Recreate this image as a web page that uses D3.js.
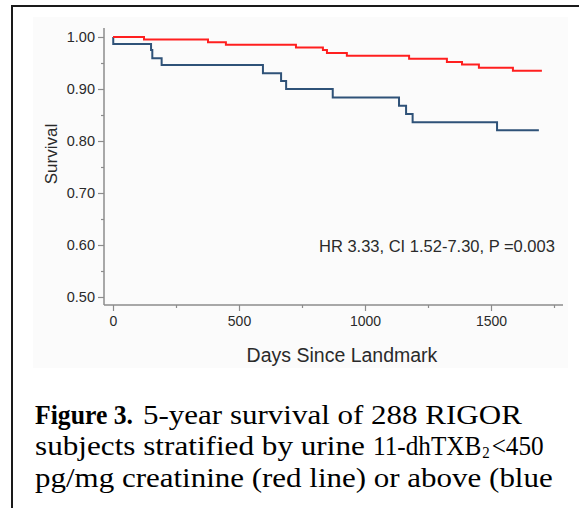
<!DOCTYPE html>
<html>
<head>
<meta charset="utf-8">
<script src="https://cdn.jsdelivr.net/npm/d3@7/dist/d3.min.js"></script>
<style>
  html, body { margin: 0; padding: 0; background: #fff; }
  svg { display: block; }
</style>
</head>
<body>
<svg id="chart" width="579" height="508"></svg>
<script>
// ---- Data ----
const redDays  = [0, 123, 377, 448, 726, 833, 849, 928, 1175, 1325, 1385, 1452, 1587, 1702];
const redSurv  = [1.000, 0.995, 0.990, 0.985, 0.980, 0.975, 0.969, 0.964, 0.958, 0.952, 0.947, 0.941, 0.935, 0.935];
const blueDays = [0, 1, 151, 156, 193, 595, 667, 687, 872, 1135, 1163, 1189, 1524, 1690];
const blueSurv = [1.000, 0.9865, 0.975, 0.959, 0.946, 0.9305, 0.9155, 0.900, 0.8835, 0.868, 0.852, 0.836, 0.8205, 0.8205];
const yMajorTicks = [0.50, 0.60, 0.70, 0.80, 0.90, 1.00];
const yMinorTicks = [0.55, 0.65, 0.75, 0.85, 0.95];
const xMajorTicks = [0, 500, 1000, 1500];
const xMinorTicks = [250, 750, 1250, 1750];
const xLabel = "Days Since Landmark";
const yLabel = "Survival";
const annotation = "HR 3.33, CI 1.52-7.30, P =0.003";

const svg = d3.select("#chart");

// faint figure background and frame
svg.append("rect").attr("x", 33).attr("y", 17).attr("width", 535).attr("height", 351)
  .attr("fill", "#fbfbfb");
svg.append("path").attr("d", "M12,508 L12,6 L579,6")
  .attr("fill", "none").attr("stroke", "#1a1a1a").attr("stroke-width", 2);

const x = d3.scaleLinear().domain([0, 1500]).range([113, 491]);
const y = d3.scaleLinear().domain([0.5, 1.0]).range([297, 37]);

const axisColor = "#8c8c8c";
const textColor = "#2a2a2a";
const axisX = 104, axisY = 305;

// Y axis
const gy = svg.append("g").attr("transform", `translate(${axisX},0)`);
gy.call(d3.axisLeft(y).tickValues(yMajorTicks).tickFormat(d3.format(".2f")).tickSize(6).tickPadding(3));
gy.append("g").call(d3.axisLeft(y).tickValues(yMinorTicks).tickFormat("").tickSize(3))
  .select(".domain").remove();
gy.selectAll(".domain").remove();
gy.append("line").attr("x1", 0).attr("x2", 0).attr("y1", 28).attr("y2", axisY)
  .attr("stroke", axisColor).attr("stroke-width", 1.5);
gy.selectAll(".tick line").attr("stroke", axisColor).attr("stroke-width", 1.2);
gy.selectAll(".tick text").attr("fill", textColor)
  .style("font-family", "Liberation Sans, Arial, sans-serif").style("font-size", "14.5px");

// X axis
const gx = svg.append("g").attr("transform", `translate(0,${axisY})`);
gx.call(d3.axisBottom(x).tickValues(xMajorTicks).tickFormat(d3.format("d")).tickSize(6).tickPadding(5));
gx.append("g").call(d3.axisBottom(x).tickValues(xMinorTicks).tickFormat("").tickSize(3))
  .select(".domain").remove();
gx.selectAll(".domain").remove();
gx.append("line").attr("x1", axisX).attr("x2", 563).attr("y1", 0).attr("y2", 0)
  .attr("stroke", axisColor).attr("stroke-width", 1.5);
gx.selectAll(".tick line").attr("stroke", axisColor).attr("stroke-width", 1.2);
gx.selectAll(".tick text").attr("fill", textColor)
  .style("font-family", "Liberation Sans, Arial, sans-serif").style("font-size", "14px");

// Curves
const line = d3.line().x(d => x(d[0])).y(d => y(d[1])).curve(d3.curveStepAfter);
const redData = redDays.map((d, i) => [d, redSurv[i]]);
const blueData = blueDays.map((d, i) => [d, blueSurv[i]]);
svg.append("path").datum(blueData).attr("d", line)
  .attr("fill", "none").attr("stroke", "#2f5278").attr("stroke-width", 2);
svg.append("path").datum(redData).attr("d", line)
  .attr("fill", "none").attr("stroke", "#ff1f1f").attr("stroke-width", 2);

// Axis titles
svg.append("text").attr("x", 342).attr("y", 362)
  .attr("text-anchor", "middle").attr("fill", textColor)
  .style("font-family", "Liberation Sans, Arial, sans-serif").style("font-size", "19.5px")
  .text(xLabel);
svg.append("text").attr("transform", "translate(57,154) rotate(-90)")
  .attr("text-anchor", "middle").attr("fill", textColor)
  .style("font-family", "Liberation Sans, Arial, sans-serif").style("font-size", "17px")
  .text(yLabel);

// Annotation
svg.append("text").attr("x", 319).attr("y", 252)
  .attr("fill", textColor)
  .style("font-family", "Liberation Sans, Arial, sans-serif").style("font-size", "16.5px")
  .text(annotation);

// Caption (justified-looking lines: each segment stretched to its span)
const cap = svg.append("g").style("font-family", "Liberation Serif, 'Times New Roman', serif")
  .style("font-size", "27px").attr("fill", "#000");
function segment(x0, x1, baseline, build) {
  const g = cap.append("g");
  const t = g.append("text").attr("x", 0).attr("y", 0);
  build(t);
  const w = t.node().getComputedTextLength();
  g.attr("transform", `translate(${x0},${baseline}) scale(${(x1 - x0) / w},1)`);
}
segment(35, 133, 424, t => t.style("font-weight", "bold").text("Figure 3."));
segment(143, 522, 424, t => t.text("5-year survival of 288 RIGOR"));
segment(35, 365, 455, t => t.text("subjects stratified by urine"));
segment(373, 541, 455, t => {
  t.append("tspan").text("11-dhTXB");
  t.append("tspan").attr("dx", 1).attr("dy", 3).style("font-size", "16px").text("2");
  t.append("tspan").attr("dx", 2).attr("dy", -3).text("<450");
});
segment(35, 553, 487, t => t.text("pg/mg creatinine (red line) or above (blue"));
</script>
</body>
</html>
